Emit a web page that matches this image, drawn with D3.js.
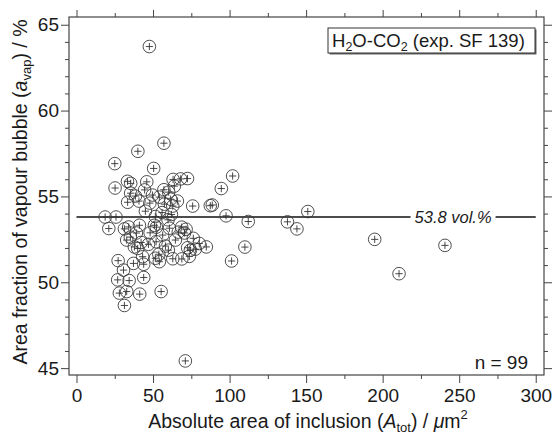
<!DOCTYPE html>
<html>
<head>
<meta charset="utf-8">
<script src="https://cdn.jsdelivr.net/npm/d3@7"></script>
<style>
  body { margin: 0; background: #fff; }
  text { font-family: "Liberation Sans", Arial, sans-serif; fill: #1a1a1a; }
</style>
</head>
<body>
<div id="chart"></div>
<script>
// absolute inclusion area A_tot (µm²) and vapour bubble fraction a_vap (%)
const areaTot = [
  47.6, 57.1, 40.1, 25.0, 50.4, 102.0, 33.3, 35.4, 45.9, 63.1, 68.0, 72.5, 63.9, 25.2, 44.5, 57.1,
  60.2, 94.6, 35.4, 61.5, 33.4, 40.8, 47.9, 62.9, 75.9, 87.4, 88.7, 18.7, 25.8, 51.5, 55.9, 59.8,
  62.0, 97.7, 112.2, 137.8, 144.0, 151.1, 21.1, 31.3, 34.1, 41.1, 52.2, 48.1, 56.3, 68.7, 71.6, 32.8,
  42.2, 40.0, 37.8, 76.3, 80.2, 84.8, 72.6, 110.0, 53.8, 43.2, 27.2, 37.2, 43.9, 54.1, 62.9, 68.8,
  73.7, 101.3, 26.9, 34.4, 43.9, 28.0, 32.8, 41.3, 55.3, 31.3, 71.1, 194.8, 210.7, 240.7,
  52.0, 47.0, 77.6, 38.5, 49.6, 57.4, 45.0, 65.9, 58.1, 51.5, 39.1, 35.2, 64.6, 66.5, 60.0, 50.9,
  54.1, 70.6, 74.4, 60.7, 30.7
];
const aVap = [
  63.73, 58.10, 57.63, 56.91, 56.63, 56.19, 55.88, 55.76, 55.85, 55.99, 56.02, 56.04, 55.60, 55.49, 55.38, 55.39,
  55.25, 55.46, 55.19, 54.84, 54.66, 54.73, 54.61, 54.44, 54.44, 54.46, 54.50, 53.80, 53.80, 53.83, 54.06, 53.64,
  53.95, 53.87, 53.54, 53.52, 53.11, 54.12, 53.13, 53.11, 53.22, 53.32, 53.21, 52.88, 52.75, 53.21, 53.09, 52.46,
  52.32, 51.97, 52.06, 52.56, 52.26, 52.06, 52.01, 52.05, 51.63, 51.49, 51.26, 51.10, 51.05, 51.20, 51.37, 51.36,
  51.51, 51.24, 50.14, 50.10, 50.28, 49.37, 49.46, 49.31, 49.46, 48.65, 45.42, 52.50, 50.50, 52.15,
  52.36, 52.21, 51.93, 55.02, 55.08, 54.55, 54.14, 54.73, 52.11, 51.40, 52.87, 52.63, 52.46, 52.92, 51.87, 53.32,
  54.96, 52.87, 51.87, 53.15, 50.71
];
const meanVap = 53.8;
const meanLabel = "53.8 vol.%";
const xMajorTicks = [0, 50, 100, 150, 200, 250, 300];
const xMinorTicks = [25, 75, 125, 175, 225, 275];
const yMajorTicks = [45, 50, 55, 60, 65];
const yMinorTicks = d3.range(45, 66).filter(v => v % 5 !== 0);
const nLabel = "n = 99";

const W = 553, H = 436;
const frame = { left: 69, right: 544, top: 17, bottom: 375 };

const svg = d3.select("#chart").append("svg")
  .attr("width", W).attr("height", H);

const x = d3.scaleLinear().domain([-4.9, 305.4]).range([frame.left, frame.right]);
const y = d3.scaleLinear().domain([44.6, 65.45]).range([frame.bottom, frame.top]);

// axes on all four sides, ticks pointing out
function styleAxis(g) {
  g.select(".domain").remove();
  g.selectAll(".tick line").attr("stroke", "#444").attr("stroke-width", 1);
  g.selectAll(".tick text").style("font-size", "19px").attr("fill", "#1a1a1a");
}

svg.append("g").attr("transform", `translate(0,${frame.bottom})`)
  .call(d3.axisBottom(x).tickValues(xMajorTicks).tickSize(8).tickPadding(6).tickFormat(d3.format("d")))
  .call(styleAxis);
svg.append("g").attr("transform", `translate(0,${frame.bottom})`)
  .call(d3.axisBottom(x).tickValues(xMinorTicks).tickSize(4).tickFormat(""))
  .call(styleAxis);
svg.append("g").attr("transform", `translate(0,${frame.top})`)
  .call(d3.axisTop(x).tickValues(xMajorTicks).tickSize(7).tickFormat(""))
  .call(styleAxis);
svg.append("g").attr("transform", `translate(0,${frame.top})`)
  .call(d3.axisTop(x).tickValues(xMinorTicks).tickSize(4).tickFormat(""))
  .call(styleAxis);

svg.append("g").attr("transform", `translate(${frame.left},0)`)
  .call(d3.axisLeft(y).tickValues(yMajorTicks).tickSize(8).tickPadding(2).tickFormat(d3.format("d")))
  .call(styleAxis);
svg.append("g").attr("transform", `translate(${frame.left},0)`)
  .call(d3.axisLeft(y).tickValues(yMinorTicks).tickSize(4).tickFormat(""))
  .call(styleAxis);
svg.append("g").attr("transform", `translate(${frame.right},0)`)
  .call(d3.axisRight(y).tickValues(yMajorTicks).tickSize(8).tickFormat(""))
  .call(styleAxis);
svg.append("g").attr("transform", `translate(${frame.right},0)`)
  .call(d3.axisRight(y).tickValues(yMinorTicks).tickSize(4).tickFormat(""))
  .call(styleAxis);

// plot frame
svg.append("rect")
  .attr("x", frame.left).attr("y", frame.top)
  .attr("width", frame.right - frame.left).attr("height", frame.bottom - frame.top)
  .attr("fill", "none").attr("stroke", "#444").attr("stroke-width", 1.2);

// mean line with label
svg.append("line")
  .attr("x1", x(0)).attr("x2", x(300))
  .attr("y1", y(meanVap)).attr("y2", y(meanVap))
  .attr("stroke", "#111").attr("stroke-width", 1.6);

const meanBg = svg.append("rect").attr("fill", "#fff");
const meanText = svg.append("text")
  .attr("x", x(246)).attr("y", y(meanVap) + 6)
  .attr("text-anchor", "middle")
  .style("font-size", "16.5px").style("font-style", "italic")
  .text(meanLabel);
const mb = meanText.node().getBBox();
meanBg.attr("x", mb.x - 4).attr("y", mb.y).attr("width", mb.width + 8).attr("height", mb.height);

// data points: open circle with a plus
const pts = areaTot.map((a, i) => ({ a, v: aVap[i] }));
const marks = svg.append("g").selectAll("g").data(pts).join("g")
  .attr("transform", d => `translate(${x(d.a)},${y(d.v)})`);
marks.append("circle").attr("r", 6.3)
  .attr("fill", "none").attr("stroke", "#3a3a3a").attr("stroke-width", 0.9);
marks.append("path").attr("d", "M-3.6,0H3.6M0,-3.6V3.6")
  .attr("stroke", "#333").attr("stroke-width", 0.9);

// legend box
const lg = svg.append("g").attr("transform", "translate(328,28)");
lg.append("rect").attr("x", 1.5).attr("y", 1.5).attr("width", 207).attr("height", 25).attr("fill", "#666");
lg.append("rect").attr("width", 207).attr("height", 25).attr("fill", "#fff").attr("stroke", "#333").attr("stroke-width", 1);
const lt = lg.append("text").attr("x", 4).attr("y", 19).style("font-size", "18.5px");
lt.append("tspan").text("H");
lt.append("tspan").attr("dy", 4).style("font-size", "12.5px").text("2");
lt.append("tspan").attr("dy", -4).text("O-CO");
lt.append("tspan").attr("dy", 4).style("font-size", "12.5px").text("2");
lt.append("tspan").attr("dy", -4).text(" (exp. SF 139)");

svg.append("text")
  .attr("x", 528).attr("y", 369)
  .attr("text-anchor", "end").style("font-size", "19px")
  .text(nLabel);

// axis titles
const xt = svg.append("text")
  .attr("x", 308).attr("y", 428)
  .attr("text-anchor", "middle").style("font-size", "19.5px");
xt.append("tspan").text("Absolute area of inclusion (");
xt.append("tspan").style("font-style", "italic").text("A");
xt.append("tspan").attr("dy", 4).style("font-size", "13px").text("tot");
xt.append("tspan").attr("dy", -4).text(") / ");
xt.append("tspan").style("font-style", "italic").text("\u03bc");
xt.append("tspan").text("m");
xt.append("tspan").attr("dy", -9).style("font-size", "13px").text("2");

const yt = svg.append("text")
  .attr("transform", `translate(27,${192}) rotate(-90)`)
  .attr("text-anchor", "middle").style("font-size", "19.5px");
yt.append("tspan").text("Area fraction of vapour bubble (");
yt.append("tspan").style("font-style", "italic").text("a");
yt.append("tspan").attr("dy", 4).style("font-size", "13px").text("vap");
yt.append("tspan").attr("dy", -4).text(") / %");
</script>
</body>
</html>
